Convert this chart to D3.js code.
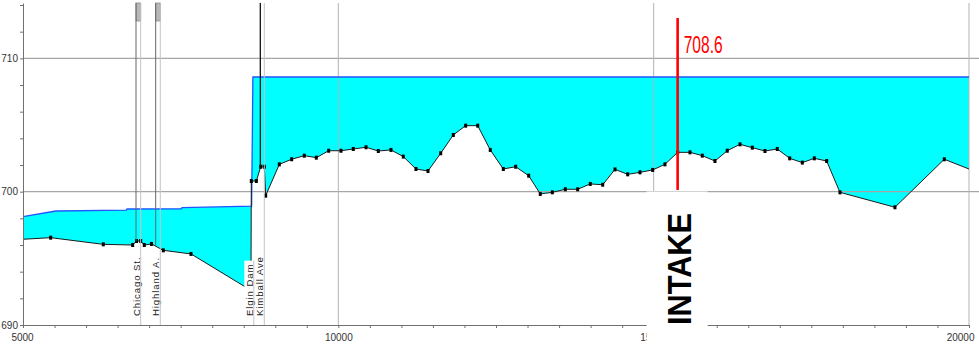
<!DOCTYPE html>
<html>
<head>
<meta charset="utf-8">
<script src="https://cdn.jsdelivr.net/npm/d3@7"></script>
<style>
  html, body { margin: 0; padding: 0; background: #fff; overflow: hidden; }
  svg { display: block; }
</style>
</head>
<body>
<svg id="chart" width="979" height="347"></svg>
<script>
// Longitudinal profile: stations (ft) and elevations (ft)
const stationTicks = d3.range(5000, 20001, 500);
const stationLabels = [5000, 10000, 15000, 20000];
const elevTicks = d3.range(690, 715, 2);
const elevLabels = [690, 700, 710];
const elevGrid = [700, 710];
const stationGrid = [10000, 15000, 20000];

// Water surface elevation along the reach
const intakeWS = 708.6;
const waterSurface = [
  [5000, 698.12], [5520, 698.55], [6640, 698.62], [6650, 698.70],
  [7510, 698.72], [7520, 698.80], [8625, 698.92], [8645, intakeWS],
  [20000, intakeWS]
];

// Channel invert (cross-section minimum elevations)
const channelBed = [
  [5000, 696.43], [5439, 696.55], [6273, 696.05], [6739, 696.00],
  [6800, 696.30], [6866, 696.30], [6923, 696.00], [7037, 696.08],
  [7225, 695.60], [7664, 695.33], [8520, 692.87], [8615, 692.90],
  [8620, 700.80], [8700, 700.80], [8769, 701.87], [8826, 701.87],
  [8848, 699.70], [9064, 702.05], [9260, 702.43], [9460, 702.70],
  [9651, 702.55], [9847, 703.07], [10042, 703.07], [10237, 703.20],
  [10439, 703.33], [10634, 703.05], [10835, 703.13], [11030, 702.63],
  [11231, 701.70], [11422, 701.55], [11623, 702.88], [11823, 704.25],
  [12019, 704.95], [12210, 704.95], [12409, 703.13], [12616, 701.70],
  [12812, 701.87], [13018, 701.20], [13202, 699.83], [13393, 699.95],
  [13599, 700.18], [13795, 700.18], [13995, 700.58], [14192, 700.52],
  [14387, 701.67], [14588, 701.30], [14783, 701.45], [14984, 701.63],
  [15179, 702.05], [15381, 702.95], [15576, 702.95], [15771, 702.70],
  [15972, 702.30], [16167, 703.07], [16369, 703.55], [16564, 703.30],
  [16765, 703.05], [16960, 703.20], [17157, 702.50], [17357, 702.18],
  [17547, 702.50], [17743, 702.30], [17954, 699.95], [18826, 698.83],
  [19608, 702.43], [20000, 701.70]
];
// invert points drawn without a section marker
const unmarkedStations = [5000, 8520, 8615, 20000];

// Structures
const structureNames = ["Chicago St.", "Highland A.", "Elgin Dam", "Kimball Ave"];
const structureStations = [6866, 7177, 8660, 8826];
const deckSpans = [[6792, 6866], [7104, 7177]];
const upstreamFaces = [6792, 7104, 8763];

// Intake location
const intakeStation = 15380;
const intakeName = "INTAKE";

const svg = d3.select("#chart");
const x = d3.scaleLinear().domain([5000, 20000]).range([23, 969]);
const y = d3.scaleLinear().domain([690, 714.15]).range([325, 3]);

const bedAt = s => {
  for (let i = 1; i < channelBed.length; i++) {
    const [s0, e0] = channelBed[i - 1], [s1, e1] = channelBed[i];
    if (s >= s0 && s <= s1) return s1 === s0 ? e1 : e0 + (e1 - e0) * (s - s0) / (s1 - s0);
  }
  return channelBed[channelBed.length - 1][1];
};

const line = d3.line().x(d => x(d[0])).y(d => y(d[1]));

// flow area between the water surface and the invert
svg.append("path")
  .attr("d", line(waterSurface.concat(channelBed.slice().reverse())) + "Z")
  .attr("fill", "#00ffff")
  .attr("stroke", "none");

// grid
svg.append("g").selectAll("line").data(elevGrid).join("line")
  .attr("x1", x(5000)).attr("x2", 979)
  .attr("y1", d => y(d)).attr("y2", d => y(d))
  .attr("stroke", "#a6a6a6").attr("stroke-width", 1.2);
svg.append("g").selectAll("line").data(stationGrid).join("line")
  .attr("x1", d => x(d)).attr("x2", d => x(d))
  .attr("y1", y(714.15)).attr("y2", y(690))
  .attr("stroke", "#b4b4b4").attr("stroke-width", 1);

// water surface and invert
svg.append("path").attr("d", line(waterSurface))
  .attr("fill", "none").attr("stroke", "#2255ff").attr("stroke-width", 1.3);
svg.append("path").attr("d", line(channelBed))
  .attr("fill", "none").attr("stroke", "#1a1a1a").attr("stroke-width", 1);
svg.append("g").selectAll("rect")
  .data(channelBed.filter(d => !unmarkedStations.includes(d[0])))
  .join("rect")
  .attr("x", d => x(d[0]) - 1.5).attr("y", d => y(d[1]) - 2)
  .attr("width", 3).attr("height", 4)
  .attr("fill", "#000");

// axes
const xAxis = d3.axisBottom(x).tickValues(stationTicks)
  .tickSize(3).tickSizeOuter(0).tickPadding(6)
  .tickFormat(d => stationLabels.includes(d) ? d : "");
const gx = svg.append("g").attr("transform", `translate(0,${y(690)})`).call(xAxis);
gx.selectAll(".tick text")
  .attr("text-anchor", d => d === 20000 ? "end" : "middle")
  .attr("dx", d => d === 20000 ? 5 : (d === 5000 ? -1 : 0));
const yAxis = d3.axisLeft(y).tickValues(elevTicks)
  .tickSize(3).tickSizeOuter(0).tickPadding(2)
  .tickFormat(d => elevLabels.includes(d) ? d : "");
const gy = svg.append("g").attr("transform", `translate(${x(5000)},0)`).call(yAxis);
[gx, gy].forEach(g => {
  g.select(".domain").attr("stroke", "#707070");
  g.selectAll(".tick line").attr("stroke", "#707070");
  g.selectAll(".tick text")
    .attr("fill", "#333")
    .style("font-family", "'Liberation Sans Narrow', 'Arial Narrow', sans-serif")
    .style("font-size", "10px");
});

// bridge decks at top
svg.append("g").selectAll("rect").data(deckSpans).join("rect")
  .attr("x", d => x(d[0])).attr("width", d => x(d[1]) - x(d[0]))
  .attr("y", y(714.15)).attr("height", 18)
  .attr("fill", "#b8b8b8").attr("stroke", "#8a8a8a").attr("stroke-width", 0.8);

// upstream faces down to the invert
svg.append("g").selectAll("line").data(upstreamFaces).join("line")
  .attr("x1", d => x(d)).attr("x2", d => x(d))
  .attr("y1", y(714.15)).attr("y2", d => y(bedAt(d)))
  .attr("stroke", (d, i) => i === 2 ? "#111" : "#666")
  .attr("stroke-width", (d, i) => i === 2 ? 1.3 : 1);

// structure labels with white backing
const labelBase = 316;
const lg = svg.append("g");
structureNames.forEach((name, i) => {
  const px = x(structureStations[i]);
  const t = lg.append("text")
    .attr("transform", `translate(${px - 0.8},${labelBase}) rotate(-90)`)
    .attr("fill", "#222")
    .style("font-family", "'Liberation Sans', Arial, sans-serif")
    .style("font-size", "9.6px")
    .style("letter-spacing", "0.9px")
    .text(name);
  const len = t.node().getComputedTextLength();
  const top = labelBase - len - 3;
  lg.insert("rect", "text")
    .attr("x", px - 9.5).attr("width", 9.5)
    .attr("y", top).attr("height", 323 - top)
    .attr("fill", "#fff");
  lg.append("line")
    .attr("x1", px).attr("x2", px)
    .attr("y1", i === 2 ? top : y(714.15)).attr("y2", y(690))
    .attr("stroke", "#c4c4c4").attr("stroke-width", 1);
});

// intake marker
const ix = x(intakeStation);
svg.append("rect")
  .attr("x", ix - 31).attr("width", 61)
  .attr("y", 191.5).attr("height", 347 - 191.5)
  .attr("fill", "#fff");
svg.append("text")
  .attr("transform", `translate(${ix + 13},325) rotate(-90)`)
  .attr("fill", "#000")
  .attr("textLength", 112).attr("lengthAdjust", "spacingAndGlyphs")
  .style("font-family", "'Liberation Sans', Arial, sans-serif")
  .style("font-weight", "bold")
  .style("font-size", "34px")
  .text(intakeName);
svg.append("line")
  .attr("x1", ix).attr("x2", ix)
  .attr("y1", 18).attr("y2", 190)
  .attr("stroke", "#ff0000").attr("stroke-width", 2.6);
svg.append("text")
  .attr("x", ix + 6).attr("y", 53)
  .attr("fill", "#ff0000")
  .attr("textLength", 39).attr("lengthAdjust", "spacingAndGlyphs")
  .style("font-family", "'Liberation Sans Narrow', 'Arial Narrow', sans-serif")
  .style("font-size", "23px")
  .text(intakeWS.toFixed(1));
</script>
</body>
</html>
